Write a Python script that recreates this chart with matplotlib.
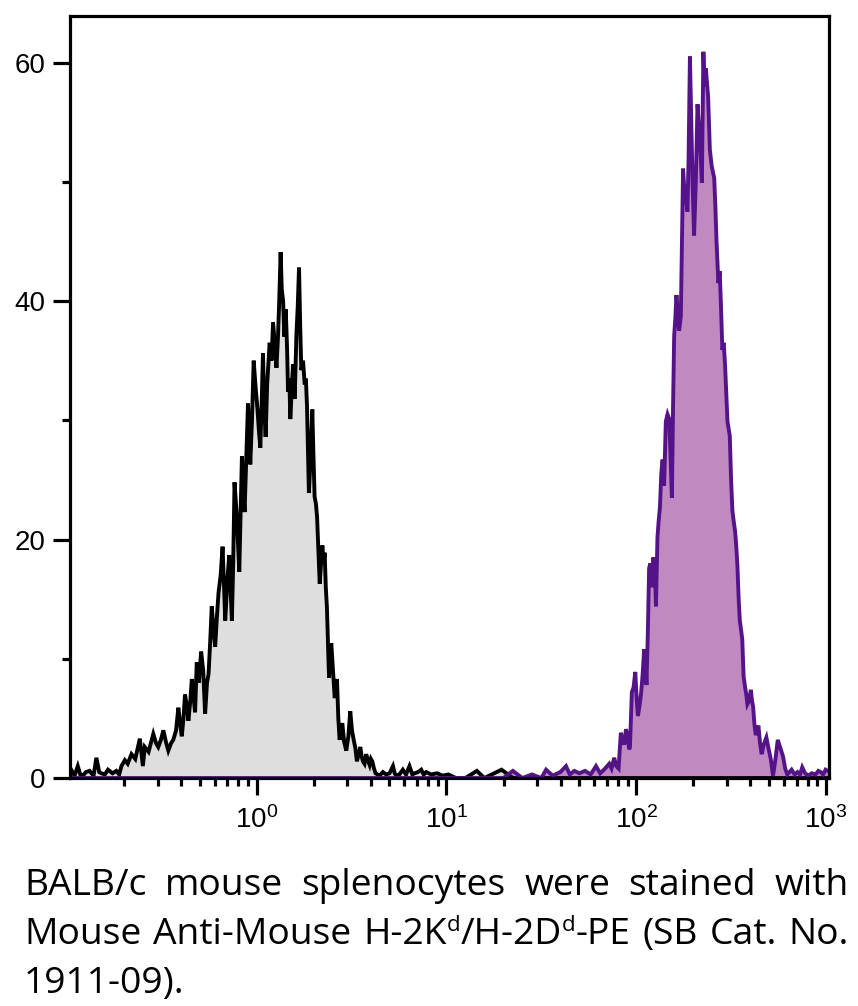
import numpy as np
import matplotlib
matplotlib.use("Agg")
import matplotlib.pyplot as plt
from matplotlib.ticker import FixedLocator, LogLocator, NullFormatter

# fluorescence intensity given as log10 (decades), counts per channel
gray_decades = [
    -1.0, -0.978, -0.96, -0.943, -0.93, -0.916, -0.90, -0.881, -0.86, -0.845,
    -0.83, -0.819, -0.80, -0.784, -0.76, -0.740, -0.725, -0.713, -0.695, -0.68,
    -0.66, -0.64, -0.616, -0.60, -0.590, -0.57, -0.545, -0.53, -0.519, -0.505,
    -0.492, -0.478, -0.466, -0.452, -0.440, -0.425, -0.413, -0.403, -0.395, -0.386,
    -0.378, -0.368, -0.360, -0.350, -0.342, -0.333, -0.325, -0.316, -0.305, -0.293,
    -0.282, -0.272, -0.262, -0.254, -0.245, -0.237, -0.228, -0.219, -0.210, -0.201,
    -0.190, -0.180, -0.172, -0.166, -0.155, -0.145, -0.131, -0.124, -0.117, -0.105,
    -0.092, -0.085, -0.078, -0.070, -0.064, -0.055, -0.046, -0.040, -0.034, -0.025,
    -0.016, -0.007, 0.004, 0.012, 0.019, 0.027, 0.033, 0.040, 0.047, 0.055,
    0.068, 0.078, 0.086, 0.095, 0.104, 0.112, 0.118, 0.126, 0.132, 0.139,
    0.146, 0.153, 0.160, 0.165, 0.172, 0.177, 0.184, 0.191, 0.200, 0.209,
    0.216, 0.223, 0.229, 0.235, 0.244, 0.253, 0.259, 0.265, 0.275, 0.284,
    0.293, 0.299, 0.305, 0.312, 0.318, 0.325, 0.332, 0.339, 0.346, 0.352,
    0.358, 0.364, 0.370, 0.376, 0.381, 0.387, 0.393, 0.402, 0.411, 0.417,
    0.423, 0.430, 0.437, 0.444, 0.451, 0.461, 0.472, 0.483, 0.493, 0.502,
    0.511, 0.520, 0.528, 0.537, 0.546, 0.553, 0.560, 0.568, 0.577, 0.586,
    0.595, 0.602, 0.609, 0.618, 0.626, 0.637, 0.647, 0.665, 0.682, 0.700,
    0.718, 0.727, 0.735, 0.752, 0.770, 0.787, 0.805, 0.820, 0.832, 0.850,
    0.867, 0.880, 0.893, 0.92, 0.95, 0.98, 1.01, 1.05, 1.10, 1.16,
    1.20, 1.29, 1.35, 3.05,
]
gray_counts = [
    0.3, 0.7, 0.2, 1.0, 0.3, 0.2, 0.5, 0.6, 0.2, 1.7,
    0.5, 0.4, 0.3, 0.7, 0.4, 0.6, 0.3, 1.0, 1.5, 1.2,
    2.0, 1.6, 3.3, 1.0, 2.6, 2.2, 3.7, 2.9, 2.6, 3.2,
    4.0, 3.0, 2.3, 2.9, 3.2, 4.0, 5.9, 4.5, 3.5, 5.0,
    7.0, 6.0, 4.8, 6.5, 8.3, 6.8, 5.5, 9.7, 8.0, 10.6,
    9.0, 5.4, 8.0, 8.7, 11.5, 14.4, 12.5, 11.0, 13.5, 15.6,
    17.0, 19.4, 16.0, 13.2, 16.5, 18.7, 13.2, 18.0, 24.8, 22.0,
    17.3, 22.0, 27.0, 24.0, 22.3, 27.0, 31.4, 29.0, 26.3, 30.0,
    35.0, 33.0, 30.9, 29.0, 27.7, 32.0, 35.6, 31.0, 28.6, 33.0,
    36.5, 35.0, 38.2, 36.5, 34.4, 37.0, 39.7, 44.1, 41.0, 40.0,
    37.0, 39.3, 36.0, 32.4, 33.5, 30.1, 32.5, 34.7, 31.8, 37.1,
    39.5, 42.8, 38.0, 34.2, 35.0, 33.0, 33.5, 31.2, 23.9, 27.0,
    30.9, 27.0, 23.6, 23.0, 21.9, 19.0, 16.3, 18.0, 19.5, 18.0,
    18.9, 16.0, 14.3, 11.0, 8.4, 10.0, 11.3, 9.0, 6.7, 7.5,
    8.3, 5.0, 3.2, 4.0, 4.6, 3.0, 2.3, 3.5, 5.6, 4.0,
    3.2, 2.5, 1.4, 2.0, 2.6, 1.8, 1.4, 1.2, 2.0, 1.5,
    1.1, 1.6, 1.4, 0.8, 0.4, 0.3, 0.2, 0.5, 0.3, 0.4,
    1.0, 0.4, 0.2, 0.3, 0.7, 0.3, 1.0, 0.3, 0.4, 0.5,
    0.7, 0.3, 0.5, 0.3, 0.4, 0.2, 0.3, 0.0, 0.0, 0.6,
    0.0, 0.7, 0.0, 0.0,
]

purple_decades = [
    -1.0, 1.30, 1.35, 1.40, 1.45, 1.50, 1.525, 1.56, 1.60, 1.630,
    1.65, 1.674, 1.70, 1.73, 1.76, 1.788, 1.81, 1.83, 1.858, 1.870,
    1.884, 1.895, 1.907, 1.919, 1.925, 1.937, 1.946, 1.955, 1.963, 1.967,
    1.977, 1.986, 1.995, 2.003, 2.009, 2.017, 2.025, 2.033, 2.042, 2.050,
    2.054, 2.061, 2.068, 2.075, 2.082, 2.090, 2.095, 2.100, 2.104, 2.112,
    2.118, 2.125, 2.132, 2.139, 2.147, 2.156, 2.165, 2.174, 2.181, 2.188,
    2.194, 2.200, 2.206, 2.212, 2.219, 2.226, 2.235, 2.241, 2.247, 2.255,
    2.261, 2.270, 2.276, 2.283, 2.290, 2.297, 2.305, 2.314, 2.323, 2.329,
    2.335, 2.346, 2.354, 2.360, 2.367, 2.379, 2.388, 2.398, 2.411, 2.417,
    2.423, 2.433, 2.440, 2.446, 2.454, 2.461, 2.468, 2.475, 2.481, 2.493,
    2.500, 2.507, 2.514, 2.521, 2.527, 2.533, 2.540, 2.546, 2.552, 2.559,
    2.566, 2.574, 2.580, 2.586, 2.595, 2.604, 2.610, 2.616, 2.623, 2.630,
    2.637, 2.644, 2.652, 2.661, 2.672, 2.686, 2.697, 2.709, 2.721, 2.733,
    2.746, 2.760, 2.774, 2.785, 2.796, 2.808, 2.819, 2.835, 2.850, 2.863,
    2.875, 2.890, 2.907, 2.925, 2.945, 2.960, 2.972, 2.985, 2.998, 3.02,
]
purple_counts = [
    0.0, 0.0, 0.6, 0.0, 0.3, 0.0, 0.7, 0.2, 0.5, 1.0,
    0.3, 0.6, 0.4, 0.6, 0.3, 1.0, 0.4, 0.7, 1.2, 0.8,
    1.7, 1.0, 0.8, 3.8, 3.4, 2.8, 4.1, 3.5, 2.4, 2.6,
    7.2, 7.6, 8.9, 6.5, 5.2, 6.0, 7.0, 8.5, 10.8, 9.5,
    7.8, 12.0, 17.6, 18.0, 16.0, 18.5, 18.0, 16.5, 14.4, 20.2,
    21.5, 22.7, 25.5, 26.7, 24.5, 29.9, 30.5, 30.1, 27.0, 23.5,
    31.0, 37.1, 38.5, 40.5, 39.0, 37.5, 38.7, 45.0, 51.1, 49.0,
    48.7, 47.5, 52.0, 60.5, 55.0, 49.9, 45.5, 50.0, 56.5, 55.0,
    53.9, 49.9, 60.9, 58.0, 59.5, 57.1, 52.7, 51.3, 50.3, 48.0,
    45.1, 41.5, 42.5, 39.9, 35.9, 36.5, 34.7, 32.0, 29.9, 28.7,
    25.0, 22.4, 21.5, 20.7, 19.5, 17.9, 15.0, 13.2, 12.5, 11.6,
    8.5, 7.6, 7.0, 6.2, 6.5, 7.4, 6.5, 6.0, 4.5, 3.6,
    4.0, 4.4, 3.0, 2.0, 2.8, 3.4, 2.5, 1.6, 0.2, 1.5,
    3.2, 2.5, 1.8, 0.8, 0.3, 0.5, 0.7, 0.3, 0.5, 0.3,
    0.9, 0.4, 0.2, 0.4, 0.3, 0.6, 0.5, 0.3, 0.7, 0.5,
]

y_major = [0, 20, 40, 60]
y_minor = [10, 30, 50]

# caption words; each word is a list of (text, superscript?) pieces
caption_lines = [
    "BALB/c mouse splenocytes were stained with",
    "Mouse Anti-Mouse H-2K^d/H-2D^d-PE (SB Cat. No.",
    "1911-09).",
]

plt.rcParams["font.family"] = ["Liberation Sans", "DejaVu Sans"]

gray_x = 10.0 ** np.array(gray_decades)
purple_x = 10.0 ** np.array(purple_decades)

fig = plt.figure(figsize=(8.58, 10.06), dpi=100)
ax = fig.add_axes([0.0816, 0.2266, 0.8846, 0.7575])

ax.fill_between(gray_x, gray_counts, 0, color="#dedede", linewidth=0, zorder=1)
ax.fill_between(purple_x, purple_counts, 0, color="#c08ac0", linewidth=0, zorder=1)
ax.plot(gray_x, gray_counts, color="black", linewidth=2.8, zorder=2,
        solid_joinstyle="miter")
ax.plot(purple_x, purple_counts, color="#55138a", linewidth=2.8, zorder=2,
        solid_joinstyle="miter")

ax.set_xscale("log")
ax.set_xlim(10 ** -0.984, 10 ** 3.016)
ax.set_ylim(0, 63.9)

ax.xaxis.set_major_locator(FixedLocator([1, 10, 100, 1000]))
ax.xaxis.set_minor_locator(LogLocator(base=10, subs=np.arange(2, 10)))
ax.xaxis.set_minor_formatter(NullFormatter())
ax.yaxis.set_major_locator(FixedLocator(y_major))
ax.yaxis.set_minor_locator(FixedLocator(y_minor))

for s in ax.spines.values():
    s.set_linewidth(2.3)
    s.set_zorder(3)

ax.tick_params(axis="both", which="major", length=12, width=2.3, pad=6,
               labelsize=20)
ax.tick_params(axis="both", which="minor", length=5.5, width=2.3)
ax.tick_params(axis="x", which="major", pad=8)


def split_pieces(word):
    # "H-2K^d/H-2D^d-PE" -> pieces with single-letter superscripts
    pieces = []
    parts = word.split("^")
    pieces.append((parts[0], False))
    for p in parts[1:]:
        pieces.append((p[0], True))
        if p[1:]:
            pieces.append((p[1:], False))
    return pieces


# justified caption
fig.canvas.draw()
renderer = fig.canvas.get_renderer()
W, H = 858, 1006
left_px, right_px = 24, 849
baselines = [895, 944, 993]
fsize = 26.8
sup_size = fsize * 0.6
sup_raise = 13
for i, line in enumerate(caption_lines):
    y = baselines[i]
    words = [split_pieces(w) for w in line.split(" ")]
    word_items = []
    for pieces in words:
        items = []
        for txt, sup in pieces:
            t = fig.text(0, 1 - (y - (sup_raise if sup else 0)) / H, txt,
                         fontsize=sup_size if sup else fsize,
                         family="Open Sans", va="baseline", ha="left")
            items.append((t, t.get_window_extent(renderer).width))
        word_items.append(items)
    word_w = [sum(w for _, w in items) for items in word_items]
    if i == len(caption_lines) - 1 or len(word_items) == 1:
        space = fig.text(0, 0, "a b", fontsize=fsize, family="Open Sans")
        gap = (space.get_window_extent(renderer).width
               - 2 * fig.text(0, 0, "a", fontsize=fsize, family="Open Sans")
               .get_window_extent(renderer).width)
        for t in fig.texts[-2:]:
            t.remove()
    else:
        gap = (right_px - left_px - sum(word_w)) / (len(word_items) - 1)
    x = left_px
    for items, ww in zip(word_items, word_w):
        xx = x
        for t, w in items:
            t.set_x(xx / W)
            xx += w
        x += ww + gap

fig.savefig("out.png", dpi=100)
